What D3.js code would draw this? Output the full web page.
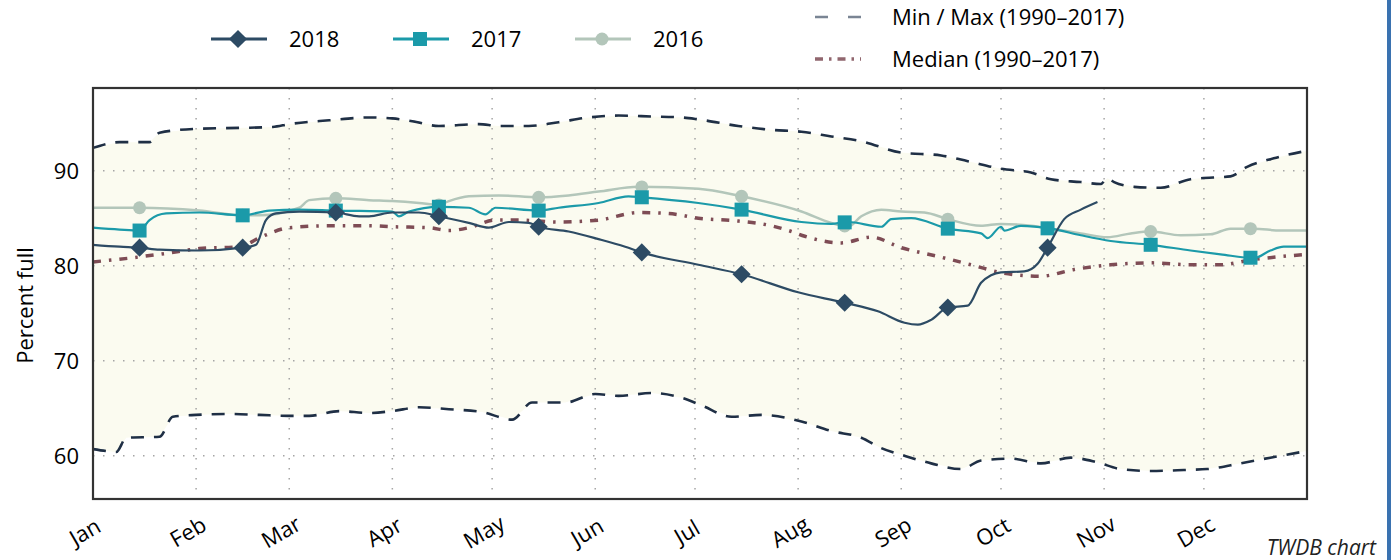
<!DOCTYPE html>
<html>
<head>
<meta charset="utf-8">
<script src="https://cdn.jsdelivr.net/npm/d3@7"></script>
<style>
  body { margin: 0; background: #fff; }
  svg { display: block; font-family: "Open Sans", sans-serif; }
</style>
</head>
<body>
<div id="chart"></div>
<script>
// day-of-year values
var maxDays = [0, 8, 17, 20, 31, 44, 54, 59, 71, 83, 90, 96, 104, 116, 122, 131, 140, 149, 158, 168, 177, 182, 194, 204, 213, 222, 231, 243, 255, 263, 273, 282, 288, 297, 303, 305, 307, 313, 321, 330, 333, 342, 347, 355, 365];
var maxVals = [92.4, 93.0, 93.0, 94.0, 94.4, 94.5, 94.6, 94.9, 95.3, 95.6, 95.5, 95.2, 94.7, 94.9, 94.7, 94.7, 95.1, 95.6, 95.8, 95.7, 95.6, 95.4, 94.7, 94.3, 94.1, 93.6, 93.1, 91.9, 91.6, 91.0, 90.2, 89.8, 89.1, 88.8, 88.6, 89.2, 88.8, 88.3, 88.2, 89.1, 89.2, 89.4, 90.4, 91.3, 92.1];

var minDays = [0, 4, 7, 10, 20, 24, 31, 41, 50, 59, 65, 74, 83, 90, 98, 107, 117, 126, 132, 142, 151, 158, 168, 177, 183, 192, 201, 213, 222, 231, 237, 244, 252, 261, 267, 276, 285, 294, 302, 309, 318, 328, 335, 345, 354, 365];
var minVals = [60.7, 60.5, 60.4, 61.9, 62.0, 64.1, 64.3, 64.4, 64.3, 64.2, 64.2, 64.7, 64.5, 64.7, 65.1, 64.9, 64.6, 63.8, 65.6, 65.6, 66.5, 66.3, 66.6, 66.1, 65.3, 64.1, 64.3, 63.6, 62.6, 61.9, 60.8, 60.0, 59.2, 58.6, 59.5, 59.7, 59.2, 59.8, 59.3, 58.6, 58.4, 58.5, 58.6, 59.2, 59.8, 60.5];

var medDays = [0, 11, 22, 32, 44, 51, 59, 71, 83, 90, 101, 107, 113, 121, 128, 140, 152, 164, 173, 182, 194, 204, 210, 214, 225, 234, 243, 255, 265, 274, 285, 295, 306, 318, 330, 339, 348, 365];
var medVals = [80.4, 80.8, 81.3, 81.8, 82.0, 83.1, 84.0, 84.2, 84.2, 84.1, 84.0, 83.7, 84.0, 84.8, 84.8, 84.6, 84.8, 85.6, 85.5, 85.0, 84.7, 84.2, 83.6, 83.1, 82.4, 83.0, 81.9, 80.9, 80.0, 79.2, 78.9, 79.6, 80.1, 80.3, 80.1, 80.1, 80.6, 81.2];

var days2018 = [0, 8, 14, 20, 32, 45, 49, 52, 55, 62, 73, 80, 83, 90, 98, 104, 113, 119, 125, 131, 134, 143, 152, 160, 165, 182, 195, 212, 226, 236, 244, 248, 252, 257, 263, 267, 270, 273, 280, 284, 287, 292, 297, 302];
var vals2018 = [82.2, 82.0, 81.9, 81.7, 81.6, 81.9, 82.2, 84.8, 85.5, 85.7, 85.6, 85.2, 85.2, 85.6, 85.6, 85.2, 84.5, 84.0, 84.6, 84.5, 84.1, 83.6, 82.8, 82.0, 81.4, 80.1, 79.1, 77.2, 76.1, 75.2, 74.0, 73.8, 74.3, 75.6, 75.8, 78.2, 79.0, 79.3, 79.4, 80.2, 81.9, 84.9, 85.9, 86.7];

var days2017 = [0, 8, 14, 17, 22, 32, 45, 53, 62, 73, 90, 92, 95, 104, 113, 118, 121, 134, 140, 152, 161, 165, 182, 195, 213, 222, 227, 237, 240, 246, 257, 267, 269, 273, 274, 279, 288, 297, 306, 318, 330, 339, 349, 354, 358, 365];
var vals2017 = [84.0, 83.8, 83.7, 84.8, 85.5, 85.6, 85.3, 85.8, 85.9, 85.8, 85.7, 85.2, 85.7, 86.2, 86.1, 85.4, 86.1, 85.8, 86.1, 86.6, 87.3, 87.2, 86.6, 85.9, 84.6, 84.4, 84.6, 84.1, 84.9, 85.0, 83.9, 83.4, 82.9, 84.1, 83.7, 84.2, 83.9, 83.2, 82.6, 82.2, 81.6, 81.2, 80.8, 81.6, 82.0, 82.0];

var days2016 = [0, 14, 32, 45, 50, 62, 65, 73, 83, 90, 98, 104, 107, 113, 122, 134, 143, 152, 164, 182, 195, 213, 222, 227, 231, 237, 243, 250, 257, 267, 273, 282, 288, 297, 305, 312, 318, 327, 336, 342, 349, 357, 365];
var vals2016 = [86.1, 86.1, 85.8, 85.3, 85.3, 86.1, 86.9, 87.1, 86.9, 86.8, 86.6, 86.4, 86.8, 87.3, 87.4, 87.2, 87.4, 87.8, 88.3, 88.1, 87.3, 85.7, 84.5, 84.1, 85.2, 85.9, 85.7, 85.6, 84.9, 84.2, 84.4, 84.2, 83.9, 83.4, 83.0, 83.4, 83.6, 83.2, 83.3, 83.9, 83.9, 83.7, 83.7];

// markers sit on the 15th of each month
var markerMonths2018 = [0, 1, 2, 3, 4, 5, 6, 7, 8, 9];
var markerMonths = [0, 1, 2, 3, 4, 5, 6, 7, 8, 9, 10, 11];

var yTicks = [60, 70, 80, 90];
var legendYears = ["2018", "2017", "2016"];
var legendRanges = ["Min / Max (1990\u20132017)", "Median (1990\u20132017)"];

var W = 1391, H = 560;
var margin = {top: 88, right: 84, bottom: 61, left: 93},
    width = W - margin.left - margin.right,
    height = H - margin.top - margin.bottom;

var c2018 = "#2d4b64", c2017 = "#1b9aa9", c2016 = "#b3c6ba",
    cRange = "#1f2f45", cMed = "#7e4c55";

var year0 = new Date(2018, 0, 1), year1 = new Date(2019, 0, 1);
function dayDate(d) { return d3.timeDay.offset(year0, d); }
function zip(days, vals) { return days.map(function(d, i) { return {date: dayDate(d), value: vals[i]}; }); }

var maxData = zip(maxDays, maxVals),
    minData = zip(minDays, minVals),
    medData = zip(medDays, medVals),
    d2018 = zip(days2018, vals2018),
    d2017 = zip(days2017, vals2017),
    d2016 = zip(days2016, vals2016);

var svg = d3.select("#chart").append("svg")
    .attr("width", W)
    .attr("height", H);

var g = svg.append("g")
    .attr("transform", "translate(" + margin.left + "," + margin.top + ")");

var x = d3.scaleTime()
    .domain([year0, year1])
    .range([0, width]);

var y = d3.scaleLinear()
    .domain([55.45, 98.7])
    .range([height, 0]);

function interp(data, dt) {
    var i = d3.bisector(function(d) { return d.date; }).left(data, dt);
    if (i <= 0) return data[0].value;
    if (i >= data.length) return data[data.length - 1].value;
    var a = data[i - 1], b = data[i];
    var t = (dt - a.date) / (b.date - a.date);
    return a.value + t * (b.value - a.value);
}

// band between min and max
var bandPts = d3.timeDay.range(year0, d3.timeDay.offset(year1, 1)).map(function(dt) {
    return {date: dt, lo: interp(minData, dt), hi: interp(maxData, dt)};
});
g.append("path")
    .datum(bandPts)
    .attr("fill", "#fbfbf0")
    .attr("d", d3.area()
        .x(function(d) { return x(d.date); })
        .y0(function(d) { return y(d.lo); })
        .y1(function(d) { return y(d.hi); }));

// grid
var months = d3.timeMonth.range(year0, year1);
g.append("g")
    .selectAll("line")
    .data(months.slice(1))
    .enter().append("line")
    .attr("x1", function(d) { return x(d); })
    .attr("x2", function(d) { return x(d); })
    .attr("y1", 0).attr("y2", height)
    .attr("stroke", "#a5a5a5")
    .attr("stroke-width", 1.5)
    .attr("stroke-dasharray", "1.5,8.5");
g.append("g")
    .selectAll("line")
    .data(yTicks)
    .enter().append("line")
    .attr("x1", 0).attr("x2", width)
    .attr("y1", function(d) { return y(d); })
    .attr("y2", function(d) { return y(d); })
    .attr("stroke", "#a5a5a5")
    .attr("stroke-width", 1.5)
    .attr("stroke-dasharray", "1.5,8.5");

var line = d3.line()
    .x(function(d) { return x(d.date); })
    .y(function(d) { return y(d.value); })
    .curve(d3.curveMonotoneX);

g.append("path").datum(maxData)
    .attr("fill", "none").attr("stroke", cRange).attr("stroke-width", 2.6)
    .attr("stroke-dasharray", "13,10").attr("d", line);
g.append("path").datum(minData)
    .attr("fill", "none").attr("stroke", cRange).attr("stroke-width", 2.6)
    .attr("stroke-dasharray", "13,10").attr("d", line);
g.append("path").datum(medData)
    .attr("fill", "none").attr("stroke", cMed).attr("stroke-width", 3.5)
    .attr("stroke-dasharray", "8,8,2.5,8").attr("d", line);

function marks(data, monthsList) {
    return monthsList.map(function(m) {
        var dt = new Date(2018, m, 15);
        return {date: dt, value: interp(data, dt)};
    });
}

// 2016
g.append("path").datum(d2016)
    .attr("fill", "none").attr("stroke", c2016).attr("stroke-width", 2.5).attr("d", line);
g.selectAll(".m2016").data(marks(d2016, markerMonths)).enter()
    .append("circle").attr("class", "m2016")
    .attr("cx", function(d) { return x(d.date); })
    .attr("cy", function(d) { return y(d.value); })
    .attr("r", 6.5).attr("fill", c2016);

// 2017
g.append("path").datum(d2017)
    .attr("fill", "none").attr("stroke", c2017).attr("stroke-width", 2.2).attr("d", line);
g.selectAll(".m2017").data(marks(d2017, markerMonths)).enter()
    .append("rect").attr("class", "m2017")
    .attr("x", function(d) { return x(d.date) - 7; })
    .attr("y", function(d) { return y(d.value) - 7; })
    .attr("width", 14).attr("height", 14).attr("fill", c2017);

// 2018
g.append("path").datum(d2018)
    .attr("fill", "none").attr("stroke", c2018).attr("stroke-width", 2.2).attr("d", line);
var diamond = d3.symbol().type(d3.symbolDiamond2).size(210);
g.selectAll(".m2018").data(marks(d2018, markerMonths2018)).enter()
    .append("path").attr("class", "m2018")
    .attr("transform", function(d) { return "translate(" + x(d.date) + "," + y(d.value) + ")"; })
    .attr("d", diamond).attr("fill", c2018);

// frame
g.append("rect")
    .attr("width", width).attr("height", height)
    .attr("fill", "none").attr("stroke", "#333").attr("stroke-width", 2.2);

// y axis labels
g.append("g")
    .selectAll("text")
    .data(yTicks)
    .enter().append("text")
    .attr("x", -14)
    .attr("y", function(d) { return y(d); })
    .attr("dy", "0.36em")
    .attr("text-anchor", "end")
    .style("font-size", "22px")
    .attr("fill", "#000")
    .text(function(d) { return d; });

// x axis labels (rotated)
g.append("g")
    .selectAll("text")
    .data(months)
    .enter().append("text")
    .attr("transform", function(d) { return "translate(" + (x(d) - 8) + "," + (height + 33) + ") rotate(-30)"; })
    .attr("text-anchor", "middle")
    .attr("dy", "0.35em")
    .style("font-size", "22px")
    .attr("fill", "#000")
    .text(function(d) { return d3.timeFormat("%b")(d); });

svg.append("text")
    .attr("transform", "translate(33," + (margin.top + height / 2 + 12) + ") rotate(-90)")
    .attr("text-anchor", "middle")
    .style("font-size", "22px")
    .attr("fill", "#000")
    .text("Percent full");

// legend: years
var legCol = [c2018, c2017, c2016];
var legX = [211, 393, 575];
legendYears.forEach(function(t, i) {
    var lg = svg.append("g").attr("transform", "translate(" + legX[i] + ",39)");
    lg.append("line").attr("x1", 0).attr("x2", 56)
        .attr("stroke", legCol[i]).attr("stroke-width", 3.2);
    if (i === 0) lg.append("path").attr("transform", "translate(27,0)").attr("d", diamond).attr("fill", legCol[i]);
    if (i === 1) lg.append("rect").attr("x", 20).attr("y", -7).attr("width", 14).attr("height", 14).attr("fill", legCol[i]);
    if (i === 2) lg.append("circle").attr("cx", 27).attr("r", 6.5).attr("fill", legCol[i]);
    lg.append("text").attr("x", 78).attr("dy", "0.36em")
        .style("font-size", "22px").attr("fill", "#000").text(t);
});

// legend: ranges
var rg = svg.append("g").attr("transform", "translate(815,0)");
rg.append("line").attr("x1", 0).attr("x2", 46).attr("y1", 17).attr("y2", 17)
    .attr("stroke", "#7a8594").attr("stroke-width", 2.6).attr("stroke-dasharray", "13,20");
rg.append("line").attr("x1", 0).attr("x2", 46).attr("y1", 59).attr("y2", 59)
    .attr("stroke", cMed).attr("stroke-width", 3.5).attr("stroke-dasharray", "8,6,2.5,6").attr("opacity", 0.85);
rg.selectAll("text").data(legendRanges).enter().append("text")
    .attr("x", 77)
    .attr("y", function(d, i) { return 17 + i * 42; })
    .attr("dy", "0.36em")
    .style("font-size", "22px").attr("fill", "#000")
    .text(function(d) { return d; });

svg.append("text")
    .attr("x", 1376).attr("y", 555)
    .attr("text-anchor", "end")
    .style("font-size", "21px").style("font-style", "italic")
    .attr("fill", "#222")
    .text("TWDB chart");

// blue edge on the right
svg.append("rect")
    .attr("x", 1387).attr("y", 0).attr("width", 4).attr("height", H)
    .attr("fill", "#3a72b0");
</script>
</body>
</html>
